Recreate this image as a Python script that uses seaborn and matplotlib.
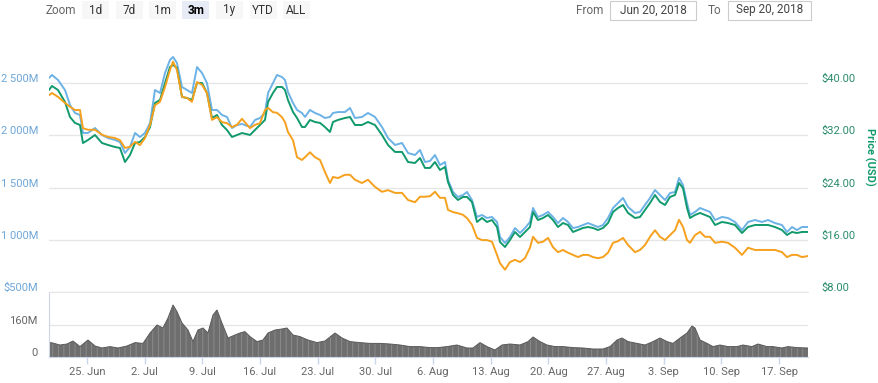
import pandas as pd
import seaborn as sns
import matplotlib.pyplot as plt
import matplotlib.dates as mdates
from matplotlib.patches import Rectangle
from matplotlib.transforms import ScaledTranslation

# days since 2018-06-20 00:00 for the three price series
days = [0.39, 0.75, 1.48, 2.33, 2.94, 3.54, 4.15, 4.51, 5.12, 5.97,
        6.82, 7.55, 8.40, 9.00, 9.61, 10.22, 10.83, 11.43, 12.04, 12.65,
        13.25, 13.86, 14.47, 15.07, 15.44, 15.92, 16.53, 17.14, 17.74, 18.35,
        18.96, 19.56, 20.17, 20.78, 21.38, 21.99, 22.60, 23.20, 23.81, 24.78,
        25.39, 25.99, 26.60, 26.97, 27.57, 28.06, 28.66, 29.03, 29.39, 30.00,
        30.49, 31.09, 31.46, 32.06, 32.67, 33.28, 33.88, 34.49, 34.85, 35.46,
        36.31, 36.92, 37.52, 38.37, 39.10, 39.95, 40.80, 41.53, 42.38, 43.23,
        43.96, 44.81, 45.41, 46.02, 46.63, 47.23, 47.84, 48.45, 48.81, 49.42,
        50.02, 50.63, 51.12, 51.72, 52.33, 52.94, 53.54, 54.15, 54.76, 55.12,
        55.73, 56.33, 56.94, 57.55, 58.15, 58.76, 59.13, 59.73, 60.34, 60.95,
        61.55, 62.16, 62.77, 63.37, 63.98, 64.59, 65.19, 65.80, 66.41, 67.01,
        67.62, 68.23, 68.84, 69.44, 70.05, 70.66, 71.51, 72.11, 72.72, 73.33,
        73.93, 74.54, 75.15, 75.75, 76.36, 76.85, 77.33, 77.82, 78.18, 78.79,
        79.40, 80.00, 80.61, 81.22, 82.06, 82.79, 83.64, 84.49, 85.22, 86.07,
        86.92, 87.65, 88.49, 89.34, 89.95, 90.56, 91.16, 91.77, 92.50]

# market cap, millions USD
market_cap = [2548, 2577, 2529, 2433, 2290, 2213, 2194, 2022, 2022, 2069,
              2002, 1974, 1955, 1935, 1830, 1888, 2022, 1983, 2022, 2117,
              2433, 2404, 2596, 2720, 2749, 2691, 2462, 2433, 2404, 2653,
              2596, 2500, 2242, 2242, 2194, 2175, 2069, 2098, 2108, 2079,
              2146, 2165, 2213, 2404, 2500, 2577, 2557, 2529, 2414, 2309,
              2242, 2213, 2175, 2242, 2213, 2194, 2165, 2175, 2213, 2222,
              2222, 2261, 2165, 2175, 2213, 2175, 2079, 1974, 1907, 1926,
              1830, 1811, 1859, 1744, 1754, 1811, 1715, 1744, 1572, 1457,
              1409, 1428, 1457, 1380, 1218, 1237, 1208, 1218, 1170, 1026,
              969, 1026, 1112, 1065, 1112, 1170, 1304, 1218, 1237, 1266,
              1218, 1160, 1208, 1170, 1112, 1122, 1141, 1160, 1141, 1122,
              1141, 1208, 1304, 1352, 1400, 1313, 1256, 1266, 1333, 1400,
              1476, 1428, 1380, 1447, 1457, 1591, 1524, 1352, 1237, 1266,
              1304, 1285, 1266, 1189, 1218, 1208, 1170, 1093, 1170, 1189,
              1170, 1189, 1160, 1141, 1074, 1122, 1093, 1122, 1122]

price_usd = [38.93, 39.54, 38.93, 37.09, 34.79, 33.88, 33.57, 30.81, 31.27, 32.04,
             30.81, 30.51, 30.20, 30.05, 27.90, 28.98, 30.81, 30.97, 31.73, 33.26,
             36.94, 37.40, 40.00, 42.45, 42.76, 42.30, 37.86, 37.70, 37.40, 40.00,
             40.00, 38.47, 34.64, 35.10, 33.57, 32.80, 31.73, 32.04, 32.34, 32.04,
             32.80, 33.57, 34.34, 37.09, 38.47, 39.39, 39.39, 38.93, 37.40, 35.56,
             34.64, 33.26, 33.26, 34.34, 34.03, 33.88, 33.26, 32.50, 34.03, 34.34,
             34.64, 34.79, 33.57, 33.57, 34.03, 33.57, 32.04, 30.51, 29.44, 29.44,
             27.90, 27.75, 28.52, 26.99, 26.99, 27.90, 26.68, 27.14, 24.84, 22.85,
             22.09, 22.55, 22.55, 21.78, 18.72, 19.33, 18.72, 19.02, 17.95, 15.66,
             14.89, 15.96, 17.19, 16.42, 17.19, 17.95, 20.25, 19.02, 19.33, 19.79,
             19.02, 17.95, 18.56, 18.26, 17.19, 17.49, 17.80, 17.95, 17.80, 17.49,
             17.80, 18.56, 20.25, 20.86, 21.32, 20.10, 19.33, 19.48, 20.56, 21.63,
             22.85, 21.78, 21.32, 22.55, 22.85, 24.69, 23.92, 20.86, 19.33, 19.79,
             20.10, 19.79, 19.48, 18.26, 18.72, 18.56, 18.26, 17.03, 17.95, 18.26,
             18.26, 18.26, 17.95, 17.49, 16.73, 17.19, 17.03, 17.19, 17.19]

price_btc = [0.00566, 0.00570, 0.00563, 0.00552, 0.00545, 0.00539, 0.00539, 0.00506, 0.00503, 0.00503,
             0.00494, 0.00490, 0.00488, 0.00484, 0.00470, 0.00472, 0.00481, 0.00475, 0.00488, 0.00512,
             0.00548, 0.00554, 0.00581, 0.00612, 0.00627, 0.00612, 0.00563, 0.00561, 0.00554, 0.00590,
             0.00585, 0.00570, 0.00521, 0.00526, 0.00517, 0.00515, 0.00508, 0.00512, 0.00523, 0.00506,
             0.00512, 0.00515, 0.00539, 0.00543, 0.00535, 0.00534, 0.00526, 0.00517, 0.00499, 0.00484,
             0.00453, 0.00448, 0.00453, 0.00462, 0.00453, 0.00448, 0.00426, 0.00406, 0.00417, 0.00415,
             0.00421, 0.00421, 0.00412, 0.00406, 0.00412, 0.00399, 0.00390, 0.00393, 0.00388, 0.00388,
             0.00375, 0.00371, 0.00381, 0.00381, 0.00382, 0.00390, 0.00379, 0.00379, 0.00357, 0.00353,
             0.00351, 0.00348, 0.00342, 0.00330, 0.00306, 0.00302, 0.00302, 0.00299, 0.00275, 0.00260,
             0.00248, 0.00262, 0.00266, 0.00262, 0.00269, 0.00288, 0.00308, 0.00297, 0.00299, 0.00306,
             0.00289, 0.00280, 0.00284, 0.00279, 0.00275, 0.00271, 0.00275, 0.00275, 0.00271, 0.00269,
             0.00271, 0.00279, 0.00297, 0.00300, 0.00306, 0.00293, 0.00280, 0.00284, 0.00293, 0.00308,
             0.00320, 0.00308, 0.00302, 0.00311, 0.00320, 0.00339, 0.00326, 0.00302, 0.00297, 0.00311,
             0.00317, 0.00308, 0.00308, 0.00297, 0.00299, 0.00297, 0.00288, 0.00275, 0.00288, 0.00284,
             0.00284, 0.00284, 0.00284, 0.00280, 0.00271, 0.00275, 0.00275, 0.00271, 0.00273]

# 24h volume, millions USD
vol_days = [0.39, 0.75, 1.72, 2.57, 3.30, 4.15, 5.12, 5.97, 6.82, 7.79,
            8.76, 9.85, 10.83, 11.80, 12.65, 13.50, 14.22, 14.83, 15.44, 15.92,
            16.53, 17.26, 17.86, 18.47, 19.08, 19.68, 20.29, 20.78, 21.38, 22.11,
            22.96, 23.57, 24.17, 24.78, 25.63, 26.36, 26.97, 27.82, 28.66, 29.27,
            30.00, 30.85, 31.82, 32.91, 33.88, 35.10, 35.95, 36.92, 38.13, 39.34,
            40.56, 41.77, 42.99, 44.20, 45.41, 46.63, 47.60, 48.69, 49.90, 51.12,
            51.84, 52.70, 53.54, 54.51, 55.36, 56.33, 57.55, 58.52, 59.13, 59.98,
            60.82, 61.80, 62.77, 63.98, 65.19, 66.41, 67.62, 68.47, 69.32, 69.93,
            70.66, 71.75, 72.72, 73.69, 74.54, 75.39, 76.11, 76.97, 77.82, 78.42,
            78.79, 79.40, 80.25, 80.97, 81.82, 82.79, 83.88, 84.61, 85.70, 86.43,
            87.52, 88.25, 89.34, 90.07, 91.16, 92.50]
volume = [72, 71, 60, 65, 80, 52, 85, 55, 45, 52,
          45, 55, 72, 68, 120, 160, 145, 195, 260, 227,
          170, 135, 77, 135, 145, 120, 210, 235, 170, 95,
          110, 120, 127, 102, 77, 85, 120, 135, 140, 145,
          110, 102, 85, 72, 80, 120, 95, 77, 72, 68,
          68, 65, 60, 52, 52, 47, 47, 52, 60, 45,
          45, 72, 52, 35, 60, 65, 60, 77, 100, 77,
          60, 52, 52, 47, 45, 40, 40, 52, 85, 95,
          77, 68, 60, 77, 95, 77, 68, 95, 120, 155,
          145, 85, 68, 52, 60, 52, 52, 60, 52, 65,
          52, 52, 45, 52, 47, 45]

mcap_ticks = [500, 1000, 1500, 2000, 2500]
mcap_labels = ['$500M', '1 000M', '1 500M', '2 000M', '2 500M']
usd_ticks = [8, 16, 24, 32, 40]
usd_labels = ['$8.00', '$16.00', '$24.00', '$32.00', '$40.00']
vol_ticks = [0, 160]
vol_labels = ['0', '160M']
zoom_buttons = ['1d', '7d', '1m', '3m', '1y', 'YTD', 'ALL']

start = pd.Timestamp('2018-06-20')
df = pd.DataFrame({'date': start + pd.to_timedelta(days, unit='D'),
                   'mcap': market_cap, 'usd': price_usd, 'btc': price_btc})
vol = pd.DataFrame({'date': start + pd.to_timedelta(vol_days, unit='D'), 'volume': volume})

BLUE = '#6cb2e6'
GREEN = '#119a6e'
ORANGE = '#f6a11e'

sns.set_style('white')
plt.rcParams['font.family'] = ['Roboto', 'DejaVu Sans']
plt.rcParams['hatch.linewidth'] = 0.6

W, H = 879, 383
fig = plt.figure(figsize=(W / 100, H / 100), dpi=100)


def box(x0, y0, x1, y1):
    return [x0 / W, 1 - y1 / H, (x1 - x0) / W, (y1 - y0) / H]


ax = fig.add_axes(box(49, 40, 808, 292))
axv = fig.add_axes(box(49, 292, 808, 357), sharex=ax)
ax2 = ax.twinx()
ax3 = ax.twinx()

sns.lineplot(data=df, x='date', y='mcap', ax=ax, color=BLUE, lw=1.4)
sns.lineplot(data=df, x='date', y='usd', ax=ax2, color=GREEN, lw=1.4)
sns.lineplot(data=df, x='date', y='btc', ax=ax3, color=ORANGE, lw=1.4)

# volume drawn as a dense column look: dark fill with light vertical hatching
axv.fill_between(vol['date'], vol['volume'], facecolor='#6e6e6e', edgecolor='#8f8f8f',
                 hatch='|||', lw=0)
sns.lineplot(data=vol, x='date', y='volume', ax=axv, color='#5a5a5a', lw=0.7)

ax.set_xlim(df['date'].iloc[0], df['date'].iloc[-1])
ax.set_ylim(500, 2911.5)
ax2.set_ylim(8, 46.58)
ax3.set_ylim(0.002074, 0.006666)
axv.set_ylim(0, 325)

up = ScaledTranslation(0, 5 / 100, fig.dpi_scale_trans)

ax.set_yticks(mcap_ticks, mcap_labels)
ax.yaxis.grid(True, color='#e6e6e6', lw=1)
ax.tick_params(axis='y', length=0, pad=8, labelsize=8, labelcolor='#6ea6d8')
ax.tick_params(axis='x', length=0, labelbottom=False)
for lbl in ax.get_yticklabels():
    lbl.set_transform(lbl.get_transform() + up)

ax2.set_yticks(usd_ticks, usd_labels)
ax2.tick_params(axis='y', length=0, pad=10, labelsize=8, labelcolor='#2a8c6c')
for lbl in ax2.get_yticklabels():
    lbl.set_transform(lbl.get_transform() + up)

ax3.set_yticks([])

axv.set_yticks(vol_ticks, vol_labels)
axv.yaxis.grid(True, color='#e6e6e6', lw=1)
axv.tick_params(axis='y', length=0, pad=8, labelsize=8, labelcolor='#666666')
for lbl in axv.get_yticklabels():
    lbl.set_transform(lbl.get_transform() + up)
axv.xaxis.set_major_locator(mdates.WeekdayLocator(byweekday=mdates.MO))
axv.xaxis.set_major_formatter(mdates.DateFormatter('%-d. %b'))
axv.tick_params(axis='x', length=5, width=1, color='#ccd6eb', pad=2,
                labelsize=8, labelcolor='#666666', bottom=True)

for a in (ax, ax2, ax3):
    a.set_xlabel('')
    a.set_ylabel('')
    for s in a.spines.values():
        s.set_visible(False)
axv.set_xlabel('')
axv.set_ylabel('')
axv.spines['right'].set_visible(False)
axv.spines['top'].set_color('#e6e6e6')
axv.spines['left'].set_color('#ccd6eb')
axv.spines['bottom'].set_color('#ccd6eb')

fig.text(870 / W, 1 - 157 / H, 'Price (USD)', rotation=270, color=GREEN,
         fontweight='bold', fontsize=8, ha='center', va='center')

# range selector bar
fig.text(61 / W, 1 - 10 / H, 'Zoom', color='#666666', fontsize=8.5, ha='center', va='center')
for i, name in enumerate(zoom_buttons):
    x0 = 82 + i * 33.5
    active = name == '3m'
    fig.patches.append(Rectangle((x0 / W, 1 - 19 / H), 27 / W, 18 / H, transform=fig.transFigure,
                                 facecolor='#e6ebf5' if active else '#f7f7f7', edgecolor='none'))
    fig.text((x0 + 13.5) / W, 1 - 10 / H, name, color='#000000' if active else '#333333',
             fontweight='bold' if active else 'normal', fontsize=8.5, ha='center', va='center')

fig.text(590 / W, 1 - 10 / H, 'From', color='#666666', fontsize=8.5, ha='center', va='center')
fig.text(714 / W, 1 - 10 / H, 'To', color='#666666', fontsize=8.5, ha='center', va='center')
for x0, x1, txt in [(610, 696, 'Jun 20, 2018'), (728, 811, 'Sep 20, 2018')]:
    fig.patches.append(Rectangle((x0 / W, 1 - 20 / H), (x1 - x0) / W, 19 / H, transform=fig.transFigure,
                                 facecolor='white', edgecolor='#cccccc', lw=0.8))
    fig.text((x0 + x1) / 2 / W, 1 - 10 / H, txt, color='#444444', fontsize=8.5, ha='center', va='center')

fig.savefig('out.png', dpi=100)
